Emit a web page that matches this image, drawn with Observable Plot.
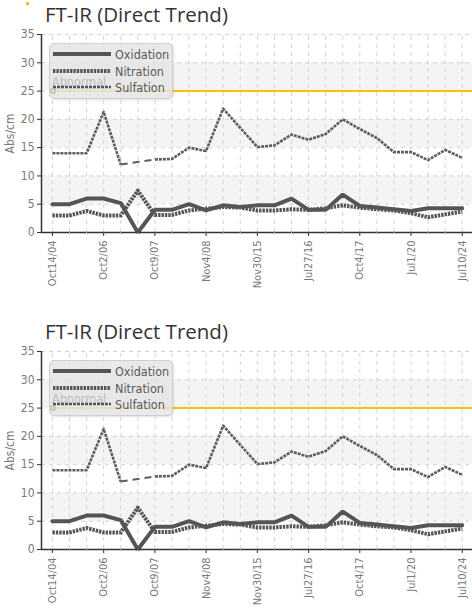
<!DOCTYPE html>
<html><head><meta charset="utf-8">
<script src="https://cdn.jsdelivr.net/npm/d3@7"></script>
<script src="https://cdn.jsdelivr.net/npm/@observablehq/plot@0.6"></script>
<style>
body{margin:0;background:#fff;width:472px;overflow:hidden;}
.block{position:relative;width:472px;height:317px;}
.title{position:absolute;left:45px;top:1px;font-family:"Open Sans",sans-serif;font-size:20.5px;line-height:26px;color:#333;white-space:nowrap;}
.chart{position:absolute;left:0;top:26px;}
.legend{position:absolute;left:49px;top:43px;width:124px;height:56px;box-sizing:border-box;border:1px solid #cfcfcf;border-radius:5px;background:rgba(228,228,228,0.82);box-shadow:1px 1px 2px rgba(0,0,0,0.12);}
.dot{position:absolute;left:26px;top:2px;width:3px;height:3px;background:#f5b800;border-radius:1px;}
</style></head>
<body><div id="root"></div>
<script>
// ---- data ----
const pointCount = 25;
const tickLabels = ["Oct14/04","Oct2/06","Oct9/07","Nov4/08","Nov30/15","Jul27/16","Oct4/17","Jul1/20","Jul10/24"];
const tickEvery = 3;
const oxidation = [5,5,6,6,5.2,0,4,4,5,3.9,4.8,4.5,4.8,4.8,6,4,4,6.7,4.7,4.4,4.1,3.8,4.3,4.3,4.3];
const nitration = [3,3,3.8,3,3,7.4,3.1,3.1,3.9,4.2,4.5,4.4,3.9,3.9,4.1,4,4.3,4.8,4.4,4.1,3.9,3.4,2.7,3.2,3.7];
const sulfation = [14,14,14,21.3,12,null,12.9,13,15,14.4,21.9,18.5,15.1,15.4,17.3,16.4,17.4,20,18.3,16.7,14.2,14.2,12.8,14.6,13.2];
const abnormal = 25;
const yTicks = [0,5,10,15,20,25,30,35];
const bands = [[5,10],[15,20],[25,30]];
const seriesNames = ["Oxidation","Nitration","Sulfation"];

const font = '"Liberation Sans Narrow","DejaVu Sans Condensed","Roboto",sans-serif';
const lineColor = "#555";

function buildRows(values){ return values.map((v,i)=>({i, v})); }

function makeChart(){
  const idx = d3.range(pointCount);
  const majors = idx.filter(i => i % tickEvery === 0);
  const xDom = [-0.64, 24.6];
  const oxRows = buildRows(oxidation), niRows = buildRows(nitration), suRows = buildRows(sulfation);
  // bridge only across the missing sulfation reading(s)
  const bridge = suRows.filter((d, k) => d.v != null &&
      ((k > 0 && suRows[k-1].v == null) || (k < suRows.length - 1 && suRows[k+1].v == null)));
  return Plot.plot({
    width: 472, height: 291,
    marginTop: 8, marginBottom: 85, marginLeft: 41, marginRight: 0,
    style: {fontFamily: font, fontSize: "12px", color: "#7a7a7a", background: "transparent", fontStretch: "condensed"},
    x: {type: "linear", domain: xDom},
    y: {domain: [0,35]},
    marks: [
      Plot.rect(bands, {x1: xDom[0], x2: xDom[1], y1: d=>d[0], y2: d=>d[1], fill: "#f4f4f4"}),
      Plot.ruleX(idx, {y1: 0, y2: 35, stroke: "#d4d4d4", strokeDasharray: "4,4"}),
      Plot.ruleY(yTicks.filter(t=>t>0), {x1: xDom[0], x2: xDom[1], stroke: "#d4d4d4", strokeDasharray: "4,4"}),
      Plot.ruleY([abnormal], {x1: 0, x2: xDom[1], stroke: "#f7c200", strokeWidth: 2}),
      Plot.line(bridge, {x: "i", y: "v", stroke: "#5e5e5e", strokeWidth: 2, strokeDasharray: "7,5", strokeLinecap: "butt"}),
      Plot.line(suRows, {x: "i", y: "v", stroke: "#5e5e5e", strokeWidth: 2.6, strokeDasharray: "3,1", strokeLinecap: "butt"}),
      Plot.line(oxRows, {x: "i", y: "v", stroke: lineColor, strokeWidth: 4, strokeLinejoin: "miter"}),
      Plot.line(niRows, {x: "i", y: "v", stroke: lineColor, strokeWidth: 4, strokeDasharray: "2.4,1", strokeLinecap: "butt"}),
      Plot.ruleX([xDom[0]], {y1: 0, y2: 35, stroke: "#333", strokeWidth: 1.5}),
      Plot.ruleY([0], {x1: xDom[0], x2: xDom[1], stroke: "#333", strokeWidth: 1.5}),
      Plot.axisY({ticks: yTicks, tickSize: 4, tickPadding: 3, stroke: "#333", label: "Abs/cm", labelAnchor: "center", labelArrow: "none", labelOffset: 36, fontSize: 12}),
      Plot.axisX({ticks: idx, tickSize: 2, tickFormat: () => "", stroke: "#aaa", label: null}),
      Plot.axisX({ticks: majors, tickSize: 4, tickPadding: 4, tickRotate: -90, stroke: "#333", label: null,
                  tickFormat: i => tickLabels[i / tickEvery], fontSize: 11})
    ]
  });
}

function makeLegend(){
  const div = document.createElement("div");
  div.className = "legend";
  const svg = d3.select(div).append("svg").attr("width", 124).attr("height", 56).style("position","absolute").style("left","-1px").style("top","-1px");
  svg.append("text").attr("x", 3).attr("y", 43).text("Abnormal")
     .attr("font-family", font).attr("font-size", 12.5).attr("fill", "#bdbdbd");
  svg.append("rect").attr("x", 2).attr("y", 46).attr("width", 4).attr("height", 4).attr("fill","none").attr("stroke","#b0b0b0");
  const styles = [
    {w: 4, dash: null},
    {w: 4, dash: "2.4,1"},
    {w: 2.6, dash: "3,1"}
  ];
  const ys = [11, 28, 44];
  seriesNames.forEach((name, k) => {
    const l = svg.append("line").attr("x1", 4).attr("x2", 62).attr("y1", ys[k]).attr("y2", ys[k])
      .attr("stroke", lineColor).attr("stroke-width", styles[k].w);
    if (styles[k].dash) l.attr("stroke-dasharray", styles[k].dash);
    svg.append("text").attr("x", 66).attr("y", ys[k] + 4.5).text(name)
      .attr("font-family", font).attr("font-size", 12.5).attr("fill", "#5a5a5a");
  });
  return div;
}

const root = document.getElementById("root");
for (let b = 0; b < 2; b++) {
  const block = document.createElement("div");
  block.className = "block";
  if (b === 0) { const d = document.createElement("div"); d.className = "dot"; block.appendChild(d); }
  const t = document.createElement("div");
  t.className = "title";
  t.textContent = "FT-IR (Direct Trend)";
  block.appendChild(t);
  const c = document.createElement("div");
  c.className = "chart";
  c.appendChild(makeChart());
  block.appendChild(c);
  block.appendChild(makeLegend());
  root.appendChild(block);
}
</script>
</body></html>
